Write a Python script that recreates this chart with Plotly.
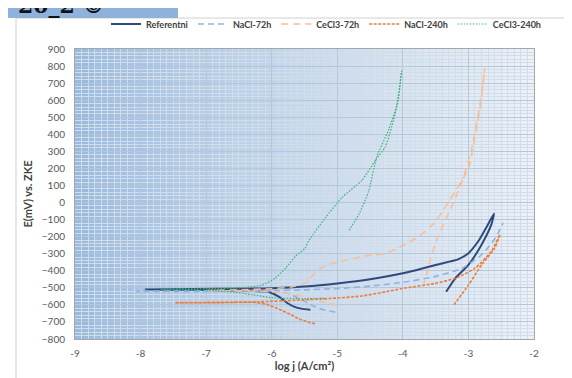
import plotly.graph_objects as go

# ---------------- data ----------------
ref_x = [-5.41, -5.55, -5.65, -5.75, -5.88, -6.05, -6.5, -7.2, -7.92, -7.2, -6.5, -6.0, -5.5, -5.0,
         -4.5, -4.0, -3.5, -3.15, -3.0, -2.85, -2.73, -2.61, -2.65, -2.8, -3.0, -3.2, -3.34]
ref_y = [-628, -622, -612, -592, -555, -525, -515, -512, -510, -507, -505, -502, -492, -474,
         -450, -415, -366, -332, -297, -227, -148, -65, -128, -247, -366, -444, -523]

nacl72_x = [-5.03, -5.18, -5.35, -5.49, -5.62, -5.78, -6.2, -7.0, -8.06, -7.0, -6.0, -5.5, -5.0,
            -4.5, -4.0, -3.5, -3.1, -2.8, -2.59, -2.47]
nacl72_y = [-642, -632, -610, -581, -555, -530, -522, -521, -520, -518, -515, -512, -504,
            -490, -468, -433, -386, -306, -208, -119]

cecl72_x = [-5.0, -5.2, -5.45, -5.7, -6.0, -6.6, -7.0, -6.5, -6.0, -5.7, -5.55, -5.44, -5.32, -5.18,
            -4.93, -4.52, -4.27, -4.02, -3.76, -3.51, -3.3, -3.16, -3.0, -2.9, -2.82, -2.75,
            -2.78, -2.84, -2.96, -3.1, -3.25, -3.36, -3.51, -3.59, -3.64, -3.68]
cecl72_y = [-600, -585, -560, -535, -522, -517, -515, -512, -505, -495, -480, -460, -400, -370,
            -344, -310, -300, -255, -200, -115, 5, 90, 200, 380, 560, 790,
            700, 540, 300, 120, -20, -109, -247, -346, -425, -475]

nacl240_x = [-5.34, -5.45, -5.59, -5.72, -5.85, -6.05, -6.25, -6.8, -7.47, -6.8, -6.2, -5.64, -5.13,
             -4.63, -4.22, -4.02, -3.51, -3.2, -2.9, -2.65, -2.52, -2.6, -2.8, -3.0, -3.23]
nacl240_y = [-711, -700, -681, -655, -632, -600, -585, -587, -587, -585, -582, -573, -563,
             -548, -520, -505, -474, -444, -385, -286, -188, -267, -366, -484, -603]

cecl240_x = [-5.2, -5.6, -6.0, -6.3, -6.7, -7.3, -7.7, -7.0, -6.5, -6.15, -5.95, -5.79, -5.64, -5.49,
             -5.44, -5.18, -4.93, -4.63, -4.42, -4.27, -4.17, -4.07, -4.02,
             -4.06, -4.1, -4.22, -4.4, -4.52, -4.67, -4.83]
cecl240_y = [-562, -563, -558, -540, -520, -512, -508, -505, -500, -484, -444, -385, -316, -267,
             -227, -89, 29, 128, 247, 325, 444, 602, 770,
             650, 560, 424, 266, 69, -69, -168]

series_names = ["Referentni", "NaCl-72h", "CeCl3-72h", "NaCl-240h", "CeCl3-240h"]
x_ticks = [-9, -8, -7, -6, -5, -4, -3, -2]

# ---------------- figure ----------------
W, H = 572, 378
ML, MR, MT, MB = 67, 46, 41, 47
PW, PH = W - ML - MR, H - MT - MB

def px_x(p):
    return (p - ML) / PW

def px_y(p):
    return 1 - (p - MT) / PH

fig = go.Figure()
styles = [
    (ref_x, ref_y, "#2e4a7d", 2.0, "solid"),
    (nacl72_x, nacl72_y, "#8db4e2", 1.6, "6px,4px"),
    (cecl72_x, cecl72_y, "#f6bf98", 1.6, "7px,5px"),
    (nacl240_x, nacl240_y, "#ec7d3a", 1.6, "3px,1.5px"),
    (cecl240_x, cecl240_y, "#3cb37a", 1.2, "1.5px,1.5px"),
]
for (xs, ys, col, w, dash), name in zip(styles, series_names):
    fig.add_trace(go.Scatter(x=xs, y=ys, mode="lines", name=name,
                             line=dict(color=col, width=w, dash=dash, shape="spline", smoothing=0.6)))

shapes = []
# gradient background of plot area
N = 46
c0 = (152, 186, 224)
c1 = (234, 241, 249)
for i in range(N):
    t = i / (N - 1)
    t2 = t ** 0.85
    c = tuple(int(round(c0[k] + (c1[k] - c0[k]) * t2)) for k in range(3))
    shapes.append(dict(type="rect", xref="x domain", yref="y domain",
                       x0=i / N, x1=(i + 1) / N + 0.001, y0=0, y1=1,
                       fillcolor="rgb(%d,%d,%d)" % c, line=dict(width=0), layer="below"))
# outer chart frame
shapes.append(dict(type="rect", xref="paper", yref="paper",
                   x0=px_x(8), x1=px_x(W + 5), y0=px_y(H + 5), y1=px_y(10),
                   line=dict(color="#d0d0d0", width=1), fillcolor="rgba(0,0,0,0)", layer="below"))
# header box (cropped at top)
shapes.append(dict(type="rect", xref="paper", yref="paper",
                   x0=px_x(-2), x1=px_x(170), y0=px_y(10), y1=px_y(-5),
                   line=dict(width=0), fillcolor="#8fb2dd", layer="above"))

fig.update_layout(
    width=W, height=H,
    margin=dict(l=ML, r=MR, t=MT, b=MB, pad=0, autoexpand=False),
    template="none",
    paper_bgcolor="white",
    plot_bgcolor="rgba(0,0,0,0)",
    shapes=shapes,
    font=dict(family="Lato, Open Sans, sans-serif", color="#595959", size=10),
    showlegend=True,
    legend=dict(orientation="h", x=px_x(318), xanchor="center", y=px_y(16), yanchor="middle",
                font=dict(size=9, color="#404040", family="Lato, sans-serif", weight="bold"),
                bgcolor="rgba(0,0,0,0)", itemwidth=30, tracegroupgap=0),
    annotations=[dict(text="<b>20_2 ©</b>", xref="paper", yref="paper",
                      x=px_x(8), y=px_y(-3), xanchor="left", yanchor="middle", showarrow=False,
                      font=dict(family="DejaVu Serif, serif", size=22, color="#111111"))],
)

fig.update_xaxes(range=[-9, -2], tickvals=x_ticks, ticktext=[str(v) for v in x_ticks],
                 automargin=False,
                 showgrid=True, gridcolor="#b9c6d4", gridwidth=1,
                 minor=dict(dtick=0.1, showgrid=True, gridcolor="#d3dde8", gridwidth=1),
                 showline=True, linecolor="#a6a6a6", linewidth=1, mirror=True, zeroline=False,
                 ticks="", ticklabelstandoff=5, tickfont=dict(size=10, color="#595959"),
                 title=dict(text="<b>log j (A/cm²)</b>", font=dict(size=11, color="#404040"), standoff=3))
fig.update_yaxes(range=[-800, 900], dtick=100,
                 automargin=False,
                 showgrid=True, gridcolor="#b9c6d4", gridwidth=1,
                 minor=dict(dtick=20, showgrid=True, gridcolor="#d3dde8", gridwidth=1),
                 showline=True, linecolor="#a6a6a6", linewidth=1, mirror=True, zeroline=False,
                 ticks="", ticklabelstandoff=7, tickfont=dict(size=10, color="#595959"),
                 title=dict(text="<b>E(mV) vs. ZKE</b>", font=dict(size=11, color="#404040"), standoff=6))

fig.write_html("out.html")
